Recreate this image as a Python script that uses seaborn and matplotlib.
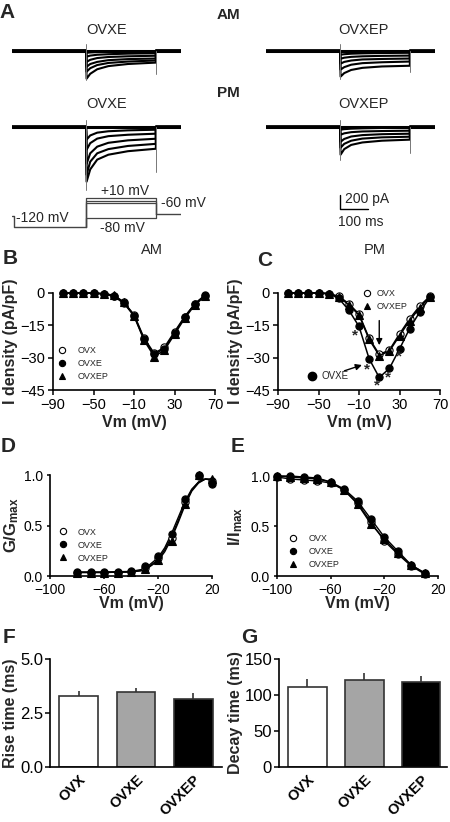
import numpy as np
import pandas as pd
import matplotlib
matplotlib.use('Agg')
import matplotlib.pyplot as plt
import seaborn as sns
from matplotlib.lines import Line2D

# ---------------- data ----------------
# panel A: current traces, values (pA) at times after step onset
step_t = [2, 15, 40, 80, 150, 250]
am_ovxe = [[-400, -330, -265, -220, -190, -170],
           [-300, -250, -205, -175, -155, -140],
           [-230, -190, -160, -135, -120, -112],
           [-160, -130, -105, -90, -80, -72],
           [-85, -70, -58, -50, -42, -36],
           [-30, -25, -20, -17, -15, -14]]
am_ovxep = [[-370, -320, -275, -245, -225, -215],
            [-270, -235, -200, -178, -165, -155],
            [-185, -160, -140, -125, -118, -112],
            [-115, -100, -88, -80, -74, -70],
            [-57, -50, -43, -38, -33, -30]]
pm_ovxe = [[-785, -610, -470, -400, -350, -315],
           [-685, -500, -380, -320, -275, -245],
           [-530, -380, -285, -230, -195, -172],
           [-330, -235, -170, -135, -115, -100],
           [-185, -125, -85, -65, -52, -43]]
pm_ovxep = [[-400, -320, -260, -225, -200, -185],
            [-300, -245, -200, -170, -152, -143],
            [-215, -175, -140, -120, -107, -100],
            [-115, -95, -78, -68, -62, -57],
            [-43, -35, -28, -23, -18, -15]]
# capacitive transients (onset min, tail min), pA
am_ovxe_tr = (-420, -330)
am_ovxep_tr = (-400, -300)
pm_ovxe_tr = (-900, -650)
pm_ovxep_tr = (-475, -375)

# voltage protocol
prot_t = [-265, -258, -258, 0]
prot_v = [-70, -70, -120, -120]
step_levels = [-80, -10, 0, 10]
step_end = 250
post_v = -60
post_end = 345

# panels B, C: I-V
iv_v = [-80, -70, -60, -50, -40, -30, -20, -10, 0, 10, 20, 30, 40, 50, 60]
am_ovx = [0, 0, 0, 0, -0.4, -1.2, -4.4, -10.0, -21.0, -28.0, -25.2, -18.0, -11.0, -5.2, -1.2]
am_ovxe_iv = [0, 0, 0, 0, -0.5, -1.5, -4.8, -10.5, -21.5, -28.5, -25.8, -18.6, -11.2, -5.0, -1.0]
am_ovxep_iv = [0, 0, 0, 0, -0.3, -1.0, -4.2, -10.6, -22.0, -29.5, -26.5, -19.2, -11.8, -5.6, -1.5]
pm_ovx = [0, 0, 0, 0, -0.3, -1.5, -5.0, -9.8, -21.0, -28.5, -26.5, -19.0, -12.0, -6.0, -1.5]
pm_ovxe_iv = [0, 0, 0, 0, -0.3, -2.5, -8.0, -15.5, -30.5, -39.2, -35.0, -26.0, -16.5, -8.8, -2.0]
pm_ovxep_iv = [0, 0, 0, 0, -0.3, -1.8, -5.5, -10.2, -21.5, -29.0, -27.0, -19.8, -12.8, -6.8, -1.8]
star_v = [-14, -2.5, 7.5, 19, 29.5]
star_i = [-19.5, -35.3, -43.0, -39.4, -29.3]

# panel D: activation
act_v = [-80, -70, -60, -50, -40, -30, -20, -10, 0, 10, 20]
act_ovx = [0.03, 0.03, 0.03, 0.03, 0.04, 0.08, 0.18, 0.38, 0.73, 0.99, 0.94]
act_ovxe = [0.04, 0.04, 0.035, 0.04, 0.05, 0.10, 0.20, 0.42, 0.76, 1.00, 0.91]
act_ovxep = [0.03, 0.03, 0.03, 0.03, 0.04, 0.07, 0.16, 0.35, 0.71, 1.00, 0.96]
fit_v = [-80, -60, -40, -30, -20, -15, -10, -5, 0, 5, 10, 15, 20]
fit_ovx = [0.035, 0.035, 0.04, 0.06, 0.16, 0.26, 0.39, 0.55, 0.72, 0.85, 0.93, 0.96, 0.95]
fit_ovxe = [0.04, 0.04, 0.045, 0.07, 0.18, 0.28, 0.42, 0.58, 0.74, 0.86, 0.93, 0.96, 0.95]
fit_ovxep = [0.035, 0.035, 0.04, 0.055, 0.15, 0.24, 0.37, 0.53, 0.70, 0.84, 0.92, 0.96, 0.96]

# panel E: inactivation
inact_v = [-100, -90, -80, -70, -60, -50, -40, -30, -20, -10, 0, 10]
inact_ovx = [0.99, 0.97, 0.96, 0.95, 0.93, 0.86, 0.73, 0.54, 0.35, 0.22, 0.10, 0.02]
inact_ovxe = [1.00, 1.00, 0.99, 0.98, 0.94, 0.87, 0.75, 0.57, 0.39, 0.25, 0.11, 0.03]
inact_ovxep = [1.00, 0.99, 0.98, 0.97, 0.94, 0.86, 0.72, 0.52, 0.37, 0.23, 0.11, 0.03]

# panels F, G: kinetics
groups = ['OVX', 'OVXE', 'OVXEP']
bar_colors = ['#ffffff', '#a5a5a5', '#000000']
rise_mean = [3.28, 3.48, 3.16]
rise_sem = [0.23, 0.20, 0.25]
decay_mean = [111.8, 120.2, 118.3]
decay_sem = [10.2, 10.8, 8.4]

# ---------------- style ----------------
sns.set_style('ticks')
plt.rcParams['font.family'] = ['Liberation Sans', 'DejaVu Sans']
plt.rcParams['mathtext.fontset'] = 'custom'
plt.rcParams['mathtext.rm'] = 'Liberation Sans'
plt.rcParams['mathtext.bf'] = 'Liberation Sans:bold'
plt.rcParams['axes.edgecolor'] = 'black'
plt.rcParams['xtick.color'] = 'black'
plt.rcParams['ytick.color'] = 'black'

W, H = 450, 822
fig = plt.figure(figsize=(W / 100, H / 100), dpi=100)


def px_axes(x0, y0, x1, y1):
    return fig.add_axes([x0 / W, 1 - y1 / H, (x1 - x0) / W, (y1 - y0) / H])


def fig_text(x, y, s, **kw):
    fig.text(x / W, 1 - y / H, s, ha='center', va='center', **kw)


# ---------------- panel A ----------------
def trace_axes(x0, base_y, traces, trans):
    ax = px_axes(x0, base_y - 10, x0 + 169, base_y + 70)
    ax.set_xlim(-265, 340)
    ax.set_ylim(-1000, 142.9)
    ax.axis('off')
    for vals in traces:
        t = [-265, 0] + step_t + [250, 340]
        y = [0, 0] + vals + [0, 0]
        sns.lineplot(x=t, y=y, ax=ax, color='black', lw=1.5, sort=False, estimator=None)
    sns.lineplot(x=[-265, 340], y=[0, 0], ax=ax, color='black', lw=2.2, estimator=None)
    ax.plot([0, 0], [95, trans[0]], color='#777777', lw=0.7)
    ax.plot([250, 250], [0, trans[1]], color='#777777', lw=0.7)
    return ax


trace_axes(12, 50.7, am_ovxe, am_ovxe_tr)
trace_axes(266, 50.7, am_ovxep, am_ovxep_tr)
trace_axes(12, 126.7, pm_ovxe, pm_ovxe_tr)
ax_br = trace_axes(266, 126.7, pm_ovxep, pm_ovxep_tr)

# scale bar: 200 pA, 100 ms
ax_br.plot([0, 0, 100], [-976, -1176, -1176], color='black', lw=1, clip_on=False)
ax_br.text(18, -1030, '200 pA', fontsize=10, ha='left', va='center')
ax_br.text(-7, -1365, '100 ms', fontsize=10, ha='left', va='center')

# protocol
ax_p = px_axes(12, 180, 181, 240)
ax_p.set_xlim(-265, 340)
ax_p.set_ylim(-179, 93.6)
ax_p.axis('off')
ax_p.plot(prot_t, prot_v, color='#444444', lw=1)
for lvl in step_levels:
    ax_p.plot([0, 0, step_end, step_end], [-120, lvl, lvl, post_v], color='#444444', lw=0.9)
ax_p.plot([step_end, post_end], [post_v, post_v], color='#444444', lw=1)
ax_p.text(138, 42, '+10 mV', fontsize=10, ha='center', va='center')
ax_p.text(268, -12, '-60 mV', fontsize=10, ha='left', va='center')
ax_p.text(-250, -78, '-120 mV', fontsize=10, ha='left', va='center')
ax_p.text(130, -125, '-80 mV', fontsize=10, ha='center', va='center')

fig_text(7, 13, 'A', fontsize=15, fontweight='bold')
fig_text(228, 15, 'AM', fontsize=11, fontweight='bold')
fig_text(228, 93, 'PM', fontsize=11, fontweight='bold')
fig_text(107, 30, 'OVXE', fontsize=10.5)
fig_text(107, 104, 'OVXE', fontsize=10.5)
fig_text(363, 30, 'OVXEP', fontsize=10.5)
fig_text(363, 104, 'OVXEP', fontsize=10.5)

# ---------------- helpers ----------------
mstyle = {'OVX': dict(marker='o', mfc='white', mec='black', ms=5.2),
          'OVXE': dict(marker='o', mfc='black', mec='black', ms=5.2),
          'OVXEP': dict(marker='^', mfc='black', mec='black', ms=5.6)}


def style_axes(ax, lab_pad, tick_len=3.5, size=10.5):
    sns.despine(ax=ax)
    for s in ['left', 'bottom']:
        ax.spines[s].set_linewidth(1.2)
    ax.tick_params(labelsize=size, length=tick_len, width=1.1, pad=lab_pad)


def legend(ax, names, anchor, tpad=1.2):
    handles = [Line2D([], [], ls='none', mew=0.8, **dict(mstyle[n], ms=4.5)) for n in names]
    ax.legend(handles, names, loc='upper left', bbox_to_anchor=anchor, frameon=False,
              fontsize=6.5, handlelength=1.0, handletextpad=tpad, labelspacing=0.45,
              borderpad=0, borderaxespad=0)


def iv_panel(ax, ovx, ovxe, ovxep):
    for name, vals in [('OVX', ovx), ('OVXEP', ovxep), ('OVXE', ovxe)]:
        sns.lineplot(x=iv_v, y=vals, ax=ax, color='black', lw=1.1, mew=0.8,
                     clip_on=False, estimator=None, **mstyle[name])
    ax.set_xlim(-90, 70)
    ax.set_ylim(-45, 0)
    ax.set_xticks([-90, -50, -10, 30, 70])
    ax.set_yticks([0, -15, -30, -45])
    style_axes(ax, 2.5)
    ax.set_xlabel('Vm (mV)', fontsize=11.5, fontweight='bold')
    ax.set_ylabel('I density (pA/pF)', fontsize=11.5, fontweight='bold')
    ax.xaxis.set_label_coords(0.5, -0.26)
    ax.yaxis.set_label_coords(-0.215, 0.5)


def sigmoid_axes(ax):
    ax.set_xlim(-100, 20)
    ax.set_ylim(0, 1)
    ax.set_xticks([-100, -60, -20, 20])
    ax.set_yticks([0, 0.5, 1.0])
    ax.set_yticklabels(['0.0', '0.5', '1.0'])
    style_axes(ax, 2.6, tick_len=2.5, size=10)
    ax.tick_params(axis='y', pad=2.5)
    ax.set_xlabel('Vm (mV)', fontsize=11.5, fontweight='bold')
    ax.xaxis.set_label_coords(0.5, -0.2)


# ---------------- panel B ----------------
ax_b = px_axes(53, 293, 215, 390)
iv_panel(ax_b, am_ovx, am_ovxe_iv, am_ovxep_iv)
legend(ax_b, ['OVX', 'OVXE', 'OVXEP'], (0.03, 0.45))
fig_text(152, 250, 'AM', fontsize=10.5)
fig_text(10, 258, 'B', fontsize=15, fontweight='bold')

# ---------------- panel C ----------------
ax_c = px_axes(278, 293, 440, 390)
iv_panel(ax_c, pm_ovx, pm_ovxe_iv, pm_ovxep_iv)
legend(ax_c, ['OVX', 'OVXEP'], (0.52, 1.04), tpad=0.6)
for v, i in zip(star_v, star_i):
    ax_c.text(v, i, '*', ha='center', va='center', fontsize=11, fontweight='bold')
ax_c.annotate('', xy=(10, -25.5), xytext=(10, -11.5),
              arrowprops=dict(arrowstyle='-|>', color='black', lw=1, mutation_scale=9))
ax_c.annotate('', xy=(-4.5, -33), xytext=(-27, -36.5),
              arrowprops=dict(arrowstyle='-|>', color='black', lw=1, mutation_scale=9))
ax_c.plot([-56], [-38.3], marker='o', color='black', ms=6)
ax_c.text(-47, -38.3, 'OVXE', fontsize=7, ha='left', va='center')
fig_text(375, 250, 'PM', fontsize=10.5)
fig_text(265, 260, 'C', fontsize=15, fontweight='bold')

# ---------------- panel D ----------------
ax_d = px_axes(50, 475, 212, 576)
for fit in [fit_ovx, fit_ovxe, fit_ovxep]:
    sns.lineplot(x=fit_v, y=fit, ax=ax_d, color='black', lw=1.0, estimator=None)
for name, vals in [('OVX', act_ovx), ('OVXEP', act_ovxep), ('OVXE', act_ovxe)]:
    ax_d.plot(act_v, vals, ls='none', mew=0.8, clip_on=False, zorder=3, **mstyle[name])
sigmoid_axes(ax_d)
ax_d.set_ylabel(r'$\mathbf{G/G_{max}}$', fontsize=12)
ax_d.yaxis.set_label_coords(-0.18, 0.5)
legend(ax_d, ['OVX', 'OVXE', 'OVXEP'], (0.05, 0.48))
fig_text(8, 446, 'D', fontsize=15, fontweight='bold')

# ---------------- panel E ----------------
ax_e = px_axes(277, 476, 438, 576)
for name, vals in [('OVX', inact_ovx), ('OVXEP', inact_ovxep), ('OVXE', inact_ovxe)]:
    sns.lineplot(x=inact_v, y=vals, ax=ax_e, color='black', lw=1.0, mew=0.8,
                 clip_on=False, estimator=None, **mstyle[name])
sigmoid_axes(ax_e)
ax_e.set_ylabel(r'$\mathbf{I/I_{max}}$', fontsize=12)
ax_e.yaxis.set_label_coords(-0.2, 0.5)
legend(ax_e, ['OVX', 'OVXE', 'OVXEP'], (0.07, 0.42))
fig_text(238, 446, 'E', fontsize=15, fontweight='bold')


# ---------------- panels F, G ----------------
def bar_panel(ax, means, sems, ylabel, yticks, ylabels, lab_x):
    df = pd.DataFrame({'group': groups, 'value': means})
    sns.barplot(data=df, x='group', y='value', hue='group', palette=dict(zip(groups, bar_colors)),
                legend=False, width=0.67, saturation=1, edgecolor='#333333', linewidth=1.2, ax=ax)
    ax.errorbar(x=range(len(groups)), y=means, yerr=[np.zeros(len(groups)), sems], fmt='none',
                ecolor='#333333', elinewidth=1.2, capsize=0, zorder=0)
    ax.set_ylim(yticks[0], yticks[-1])
    ax.set_yticks(yticks)
    ax.set_yticklabels(ylabels)
    ax.set_xlim(-0.5, 2.5)
    style_axes(ax, 1.5)
    ax.tick_params(axis='y', labelsize=12)
    ax.tick_params(axis='x', length=0, pad=4)
    ax.set_xticks(range(len(groups)))
    ax.set_xticklabels(groups, rotation=45, ha='right', rotation_mode='anchor',
                       fontweight='bold', fontsize=10.5)
    ax.set_xlabel('')
    ax.set_ylabel(ylabel, fontsize=11.5, fontweight='bold')
    ax.yaxis.set_label_coords(lab_x, 0.5)


ax_f = px_axes(50, 659, 222, 767)
bar_panel(ax_f, rise_mean, rise_sem, 'Rise time (ms)', [0, 2.5, 5.0], ['0.0', '2.5', '5.0'], -0.185)
fig_text(9, 637, 'F', fontsize=15, fontweight='bold')

ax_g = px_axes(279, 659, 447, 767)
bar_panel(ax_g, decay_mean, decay_sem, 'Decay time (ms)', [0, 50, 100, 150], ['0', '50', '100', '150'], -0.215)
ax_g.set_xlim(-0.5, 2.45)
fig_text(249, 637, 'G', fontsize=15, fontweight='bold')

plt.savefig('out.png', dpi=100)
